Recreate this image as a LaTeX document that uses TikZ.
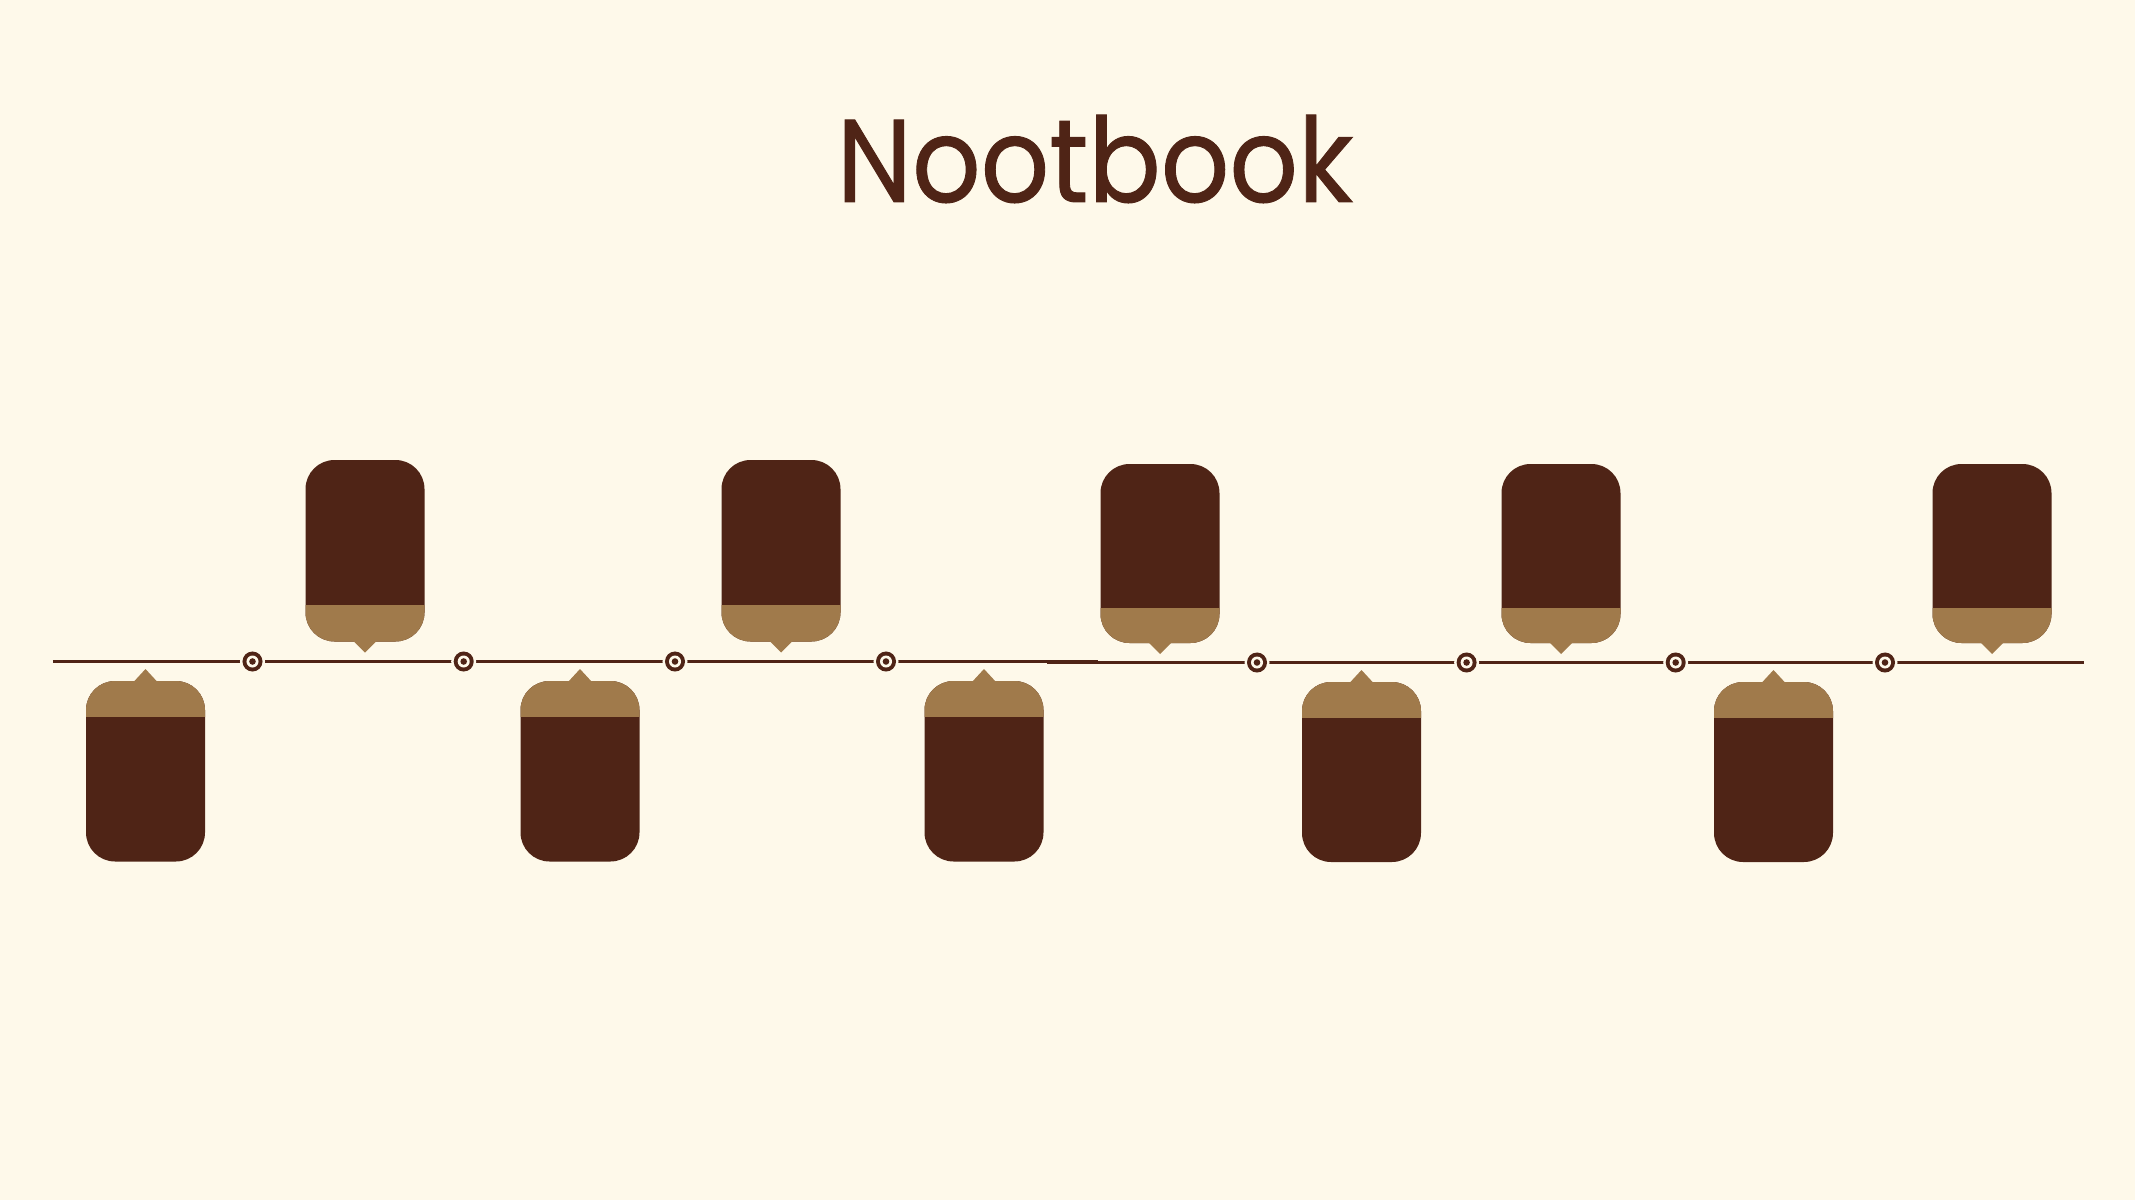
\documentclass[tikz,border=0pt]{standalone}
\usepackage{fontspec}
\setmainfont{Poppins}[FakeBold=0.8]
\definecolor{bg}{HTML}{FEF9EA}
\definecolor{cdark}{HTML}{4F2416}
\definecolor{clight}{HTML}{A07A4B}
\tikzset{cardround/.style={rounded corners=2.9mm}}
\newcommand\hicard[4]{%
  \fill[cdark, cardround] (#1-59.5,#2) rectangle (#1+59.5,#4);
  \begin{scope}
    \clip (#1-61,#3) rectangle (#1+61,#4+2);
    \fill[clight, cardround] (#1-59.5,#2) rectangle (#1+59.5,#4);
  \end{scope}
  \fill[clight] (#1-12,#4-1) -- (#1+12,#4-1) -- (#1,#4+11) -- cycle;}
\newcommand\locard[4]{%
  \fill[cdark, cardround] (#1-59.5,#2) rectangle (#1+59.5,#4);
  \begin{scope}
    \clip (#1-61,#2-2) rectangle (#1+61,#3);
    \fill[clight, cardround] (#1-59.5,#2) rectangle (#1+59.5,#4);
  \end{scope}
  \fill[clight] (#1-12,#2+1) -- (#1+12,#2+1) -- (#1,#2-12) -- cycle;}
\newcommand\marker[2]{%
  \fill[bg] (#1,#2) circle (1.25mm);
  \fill[cdark] (#1,#2) circle (1.0mm);
  \fill[bg] (#1,#2) circle (0.6mm);
  \fill[cdark] (#1,#2) circle (0.33mm);}
\begin{document}
\begin{tikzpicture}[x=0.01cm, y=-0.01cm]
\fill[bg] (0,0) rectangle (2135,1200);
\useasboundingbox (0,0) rectangle (2135,1200);
% title
\node[anchor=base, text=cdark, font=\fontsize{33.5}{40}\selectfont, inner sep=0, xscale=0.91] (title) at (1095,202) {Nootbook};
% timeline
\coordinate (l1) at (52.8,661.5);
\coordinate (l2) at (1098,661.5);
\coordinate (r1) at (1047,662.5);
\coordinate (r2) at (2083.5,662.5);
\draw[cdark, line width=0.03cm] (l1) -- (l2);
\draw[cdark, line width=0.03cm] (r1) -- (r2);
% markers
\marker{252.5}{661.5}
\marker{463.7}{661.5}
\marker{675}{661.5}
\marker{886}{661.5}
\marker{1257}{662.5}
\marker{1466.6}{662.5}
\marker{1675.7}{662.5}
\marker{1885}{662.5}
% upper cards
\hicard{365}{460}{605.5}{641.5}
\hicard{781}{460}{605.5}{641.5}
\hicard{1160}{464}{608}{643}
\hicard{1561}{464}{608}{643}
\hicard{1992}{464}{608}{643}
% lower cards
\locard{145.5}{681}{716}{861.5}
\locard{580}{681}{716}{861.5}
\locard{984}{681}{716}{861.5}
\locard{1361.5}{682}{717}{862}
\locard{1773.5}{682}{717}{862}
\end{tikzpicture}
\end{document}
